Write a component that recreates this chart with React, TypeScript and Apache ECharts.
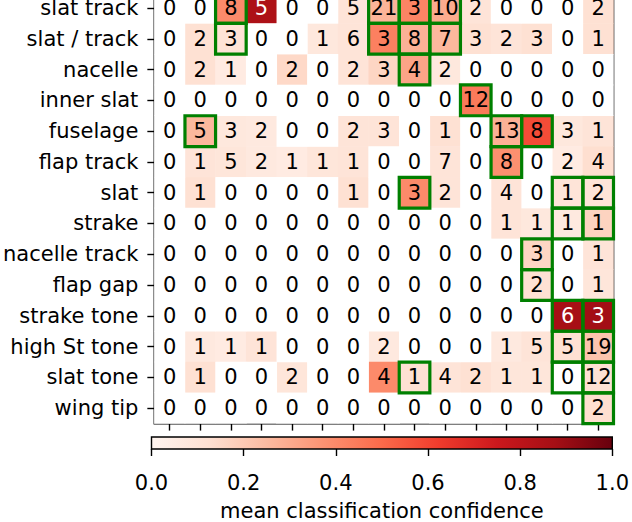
import React, { useEffect, useRef } from "react";
import * as echarts from "echarts";

const rowLabels = [
  "slat track",
  "slat / track",
  "nacelle",
  "inner slat",
  "fuselage",
  "flap track",
  "slat",
  "strake",
  "nacelle track",
  "flap gap",
  "strake tone",
  "high St tone",
  "slat tone",
  "wing tip",
];

const colKeys = ["c1", "c2", "c3", "c4", "c5", "c6", "c7", "c8", "c9", "c10", "c11", "c12", "c13", "c14", "c15"];

const counts = [
  [0, 0, 8, 5, 0, 0, 5, 21, 3, 10, 2, 0, 0, 0, 2],
  [0, 2, 3, 0, 0, 1, 6, 3, 8, 7, 3, 2, 3, 0, 1],
  [0, 2, 1, 0, 2, 0, 2, 3, 4, 2, 0, 0, 0, 0, 0],
  [0, 0, 0, 0, 0, 0, 0, 0, 0, 0, 12, 0, 0, 0, 0],
  [0, 5, 3, 2, 0, 0, 2, 3, 0, 1, 0, 13, 8, 3, 1],
  [0, 1, 5, 2, 1, 1, 1, 0, 0, 7, 0, 8, 0, 2, 4],
  [0, 1, 0, 0, 0, 0, 1, 0, 3, 2, 0, 4, 0, 1, 2],
  [0, 0, 0, 0, 0, 0, 0, 0, 0, 0, 0, 1, 1, 1, 1],
  [0, 0, 0, 0, 0, 0, 0, 0, 0, 0, 0, 0, 3, 0, 1],
  [0, 0, 0, 0, 0, 0, 0, 0, 0, 0, 0, 0, 2, 0, 1],
  [0, 0, 0, 0, 0, 0, 0, 0, 0, 0, 0, 0, 0, 6, 3],
  [0, 1, 1, 1, 0, 0, 0, 2, 0, 0, 0, 1, 5, 5, 19],
  [0, 1, 0, 0, 2, 0, 0, 4, 1, 4, 2, 1, 1, 0, 12],
  [0, 0, 0, 0, 0, 0, 0, 0, 0, 0, 0, 0, 0, 0, 2],
];

const confidence = [
  [0, 0, 0.4, 0.85, 0, 0, 0.1, 0.27, 0.42, 0.3, 0.1, 0, 0, 0, 0.12],
  [0, 0.12, 0.11, 0, 0, 0.08, 0.1, 0.43, 0.28, 0.26, 0.12, 0.1, 0.12, 0, 0.12],
  [0, 0.12, 0.06, 0, 0.15, 0, 0.1, 0.16, 0.32, 0.08, 0, 0, 0, 0, 0],
  [0, 0, 0, 0, 0, 0, 0, 0, 0, 0, 0.45, 0, 0, 0, 0],
  [0, 0.26, 0.08, 0.07, 0, 0, 0.1, 0.1, 0, 0.12, 0, 0.28, 0.58, 0.08, 0.1],
  [0, 0.1, 0.09, 0.07, 0.06, 0.09, 0.1, 0, 0, 0.1, 0, 0.38, 0, 0.06, 0.13],
  [0, 0.12, 0, 0, 0, 0, 0.12, 0, 0.4, 0.1, 0, 0.1, 0, 0.1, 0.1],
  [0, 0, 0, 0, 0, 0, 0, 0, 0, 0, 0, 0.1, 0.08, 0.07, 0.17],
  [0, 0, 0, 0, 0, 0, 0, 0, 0, 0, 0, 0, 0.16, 0, 0.1],
  [0, 0, 0, 0, 0, 0, 0, 0, 0, 0, 0, 0, 0.12, 0, 0.09],
  [0, 0, 0, 0, 0, 0, 0, 0, 0, 0, 0, 0, 0, 0.87, 0.88],
  [0, 0.07, 0.06, 0.1, 0, 0, 0, 0.07, 0, 0, 0, 0.07, 0.1, 0.12, 0.22],
  [0, 0.12, 0, 0, 0.09, 0, 0, 0.4, 0.12, 0.1, 0.12, 0.09, 0.09, 0, 0.12],
  [0, 0, 0, 0, 0, 0, 0, 0, 0, 0, 0, 0, 0, 0, 0.13],
];

// highlighted cells: [row, col]
const boxedCells = [
  [0, 2], [0, 7], [0, 8], [0, 9],
  [1, 2], [1, 7], [1, 8], [1, 9],
  [2, 8],
  [3, 10],
  [4, 1], [4, 11], [4, 12],
  [5, 11],
  [6, 8], [6, 13], [6, 14],
  [7, 13], [7, 14],
  [8, 12],
  [9, 12],
  [10, 13], [10, 14],
  [11, 13], [11, 14],
  [12, 8], [12, 13], [12, 14],
  [13, 14],
];

const colorbarTicks = [0, 0.2, 0.4, 0.6, 0.8, 1.0];
const colorbarTitle = "mean classification confidence";

const redsStops = [
  "#fff5f0", "#fee0d2", "#fcbba1", "#fc9272", "#fb6a4a",
  "#ef3b2c", "#cb181d", "#a50f15", "#67000d",
];

const FONT = "DejaVu Sans";
const FS = 21;

export default function App() {
  const ref = useRef<HTMLDivElement>(null);

  useEffect(() => {
    if (!ref.current) return;
    const chart = echarts.init(ref.current, null, { renderer: "svg" });

    const heatData: any[] = [];
    const zeroData: any[] = [];
    counts.forEach((row, r) => {
      row.forEach((n, c) => {
        if (n > 0) {
          const conf = confidence[r][c];
          heatData.push({
            value: [c, r, conf, n],
            label: { color: conf > 0.75 ? "#ffffff" : "#000000" },
          });
        } else {
          zeroData.push({ value: [c, r, 0, n] });
        }
      });
    });

    const gradient = new echarts.graphic.LinearGradient(
      0, 0, 1, 0,
      redsStops.map((c, i) => ({ offset: i / (redsStops.length - 1), color: c }))
    );

    const cellLabel = {
      show: true,
      fontSize: FS,
      fontFamily: FONT,
      color: "#000",
      formatter: (p: any) => String(p.value[3]),
    };

    const option: any = {
      animation: false,
      backgroundColor: "#ffffff",
      textStyle: { fontFamily: FONT },
      grid: [
        {
          left: 151.5, right: 18.5, top: 12.6, height: 431,
          show: true, borderColor: "#000000", borderWidth: 1.6,
          backgroundColor: "transparent",
        },
        { left: 151.5, right: 18.5, top: 457, height: 25 },
      ],
      xAxis: [
        {
          type: "category",
          gridIndex: 0,
          data: colKeys,
          position: "bottom",
          axisLine: { show: false },
          axisTick: { show: true, alignWithLabel: true, length: 7, lineStyle: { color: "#000", width: 1.4 } },
          axisLabel: { show: false },
          splitLine: { show: false },
        },
        {
          type: "value",
          gridIndex: 1,
          min: 0,
          max: 1,
          interval: 0.2,
          position: "bottom",
          axisLine: { show: false },
          axisTick: { show: true, length: 7, lineStyle: { color: "#000", width: 1.4 } },
          axisLabel: {
            show: true,
            fontSize: FS,
            fontFamily: FONT,
            color: "#000",
            margin: 23,
            formatter: (v: number) => (colorbarTicks.some((t) => Math.abs(t - v) < 1e-9) ? v.toFixed(1) : ""),
          },
          splitLine: { show: false },
          name: colorbarTitle,
          nameLocation: "middle",
          nameGap: 51,
          nameTextStyle: { fontSize: FS, fontFamily: FONT, color: "#000" },
        },
      ],
      yAxis: [
        {
          type: "category",
          gridIndex: 0,
          data: rowLabels,
          inverse: true,
          axisLine: { show: false },
          axisTick: { show: true, alignWithLabel: true, length: 7, lineStyle: { color: "#000", width: 1.4 } },
          axisLabel: { fontSize: FS, fontFamily: FONT, color: "#000", margin: 16 },
          splitLine: { show: false },
        },
        { type: "value", gridIndex: 1, min: 0, max: 1, show: false },
      ],
      visualMap: [
        {
          type: "continuous",
          show: false,
          min: 0,
          max: 1,
          dimension: 2,
          seriesIndex: 0,
          inRange: { color: redsStops },
        },
        {
          type: "continuous",
          show: false,
          min: 0,
          max: 1,
          dimension: 2,
          seriesIndex: 1,
          inRange: { color: ["#ffffff", "#ffffff"] },
        },
      ],
      series: [
        {
          type: "heatmap",
          xAxisIndex: 0,
          yAxisIndex: 0,
          data: heatData,
          itemStyle: { borderWidth: 0 },
          label: cellLabel,
          emphasis: { disabled: true },
          z: 1,
        },
        {
          type: "heatmap",
          xAxisIndex: 0,
          yAxisIndex: 0,
          data: zeroData,
          itemStyle: { borderWidth: 0 },
          label: cellLabel,
          emphasis: { disabled: true },
          z: 1,
        },
        {
          type: "custom",
          xAxisIndex: 0,
          yAxisIndex: 0,
          data: boxedCells.map(([r, c]) => [c, r]),
          renderItem: (params: any, api: any) => {
            const p = api.coord([api.value(0), api.value(1)]);
            const s = api.size([1, 1]);
            return {
              type: "rect",
              shape: { x: p[0] - s[0] / 2, y: p[1] - s[1] / 2, width: s[0], height: s[1] },
              style: { fill: "none", stroke: "#008000", lineWidth: 3.2 },
            };
          },
          silent: true,
          z: 5,
        },
        {
          type: "custom",
          xAxisIndex: 1,
          yAxisIndex: 1,
          data: [[0, 0, 1, 1]],
          renderItem: (params: any, api: any) => {
            const p0 = api.coord([api.value(0), api.value(1)]);
            const p1 = api.coord([api.value(2), api.value(3)]);
            return {
              type: "rect",
              shape: { x: p0[0], y: p1[1], width: p1[0] - p0[0], height: p0[1] - p1[1] },
              style: { fill: gradient, stroke: "#000000", lineWidth: 1.4 },
            };
          },
          silent: true,
        },
      ],
    };

    chart.setOption(option);
    return () => chart.dispose();
  }, []);

  return (
    <div
      ref={ref}
      style={{ position: "absolute", left: 0, top: -20, width: 632, height: 542 }}
    />
  );
}
